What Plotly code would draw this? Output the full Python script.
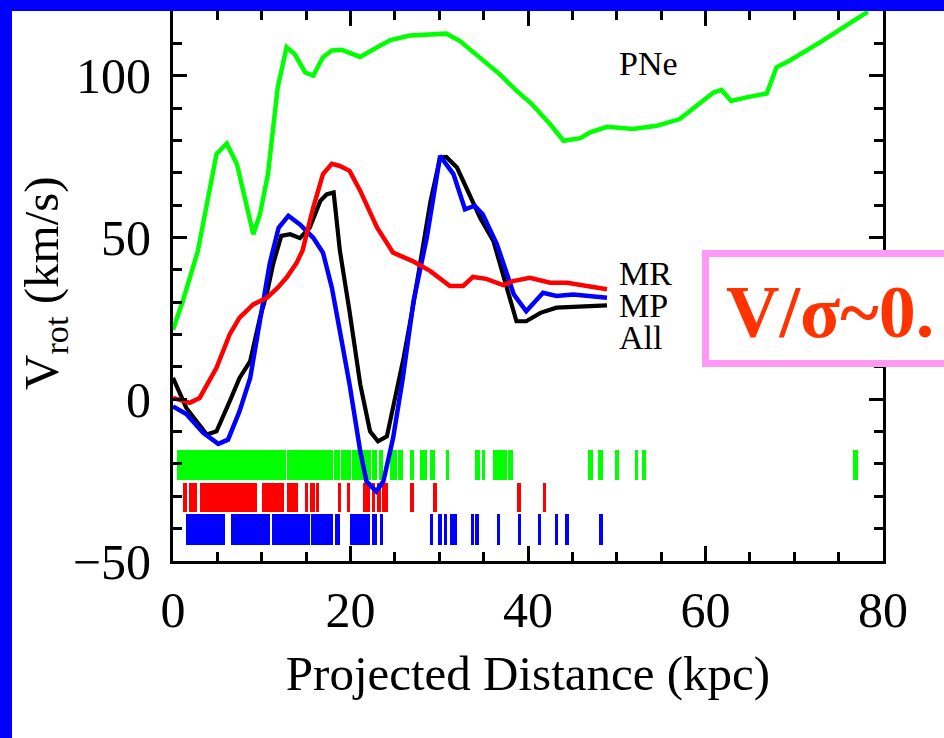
import plotly.graph_objects as go

# ---------------- data ----------------
pne_x = [0, 1.1, 2.8, 4.9, 6.05, 7.2, 9.05, 9.8, 10.7, 11.8, 12.8, 13.7, 14.9, 15.8, 16.9, 17.9, 19.0,
         21.1, 23.0, 24.5, 26.7, 29.3, 30.8, 32.3, 34.6, 36.8, 38.7, 40.4, 42.5, 44.0, 45.9, 47.0, 48.9,
         51.8, 54.5, 57.1, 59.0, 60.9, 61.8, 62.9, 64.6, 66.9, 68.0, 69.5, 72.9, 78.3]
pne_y = [21.5, 30.3, 45.8, 75.8, 79.0, 72.7, 51.0, 57.2, 69.6, 96.4, 108.8, 106.7, 101.0, 100.0, 105.7,
         107.8, 108.0, 105.8, 108.8, 111.0, 112.4, 113.0, 113.0, 110.8, 105.7, 100.5, 95.4, 91.3, 85.0,
         79.9, 80.7, 82.5, 84.2, 83.5, 84.5, 86.6, 90.7, 94.8, 95.6, 92.2, 93.3, 94.5, 102.6, 104.7,
         110.3, 119.8]

mr_x = [0, 1.9, 3.0, 4.9, 6.4, 7.5, 9.05, 10.6, 11.8, 12.8, 13.9, 14.6, 15.8, 16.9, 17.9, 18.8, 19.9,
        21.1, 23.0, 24.8, 27.0, 29.0, 31.2, 32.7, 33.8, 35.3, 37.2, 38.3, 40.2, 42.5, 44.4, 48.9]
mr_y = [0.4, -1.1, 0.4, 9.7, 20.1, 25.2, 29.3, 31.4, 34.5, 37.6, 42.0, 46.0, 59.2, 69.6, 72.8, 72.1,
        70.6, 64.4, 53.0, 45.3, 42.7, 39.6, 35.0, 35.0, 37.8, 37.2, 35.3, 36.5, 37.5, 36.0, 36.0, 34.0]

all_x = [0, 1.5, 3.8, 4.9, 6.4, 7.5, 8.7, 9.8, 10.6, 11.3, 12.2, 13.2, 14.3, 15.4, 16.6, 17.3, 18.1,
         18.8, 19.9, 21.1, 22.2, 23.1, 24.1, 25.0, 26.0, 27.0, 28.0, 29.0, 30.1, 30.8, 32.0, 33.5, 34.6,
         36.1, 38.0, 38.7, 39.8, 41.4, 43.2, 46.2, 48.9]
all_y = [6.6, -2.7, -10.9, -9.9, -0.6, 6.6, 11.8, 25.2, 33.0, 42.0, 50.5, 51.0, 49.8, 53.0, 61.3, 63.3,
         63.9, 46.0, 27.0, 4.6, -9.9, -13.0, -11.5, 0.0, 13.0, 28.0, 44.0, 61.0, 74.7, 74.9, 71.6, 62.3,
         56.1, 48.9, 31.0, 24.1, 24.1, 26.7, 28.3, 28.8, 29.0]

mp_x = [0, 1.5, 3.4, 5.1, 6.2, 7.5, 8.7, 9.8, 10.9, 11.9, 13.0, 14.3, 15.8, 16.9, 17.9, 18.8, 19.9,
        21.1, 21.8, 22.9, 23.7, 24.8, 25.9, 27.1, 28.6, 30.1, 31.6, 32.9, 34.0, 34.9, 36.5, 38.4, 39.8,
        41.7, 43.2, 45.1, 48.9]
mp_y = [-2.2, -4.6, -10.4, -13.8, -12.5, -3.7, 6.6, 25.2, 42.0, 53.0, 56.7, 54.0, 49.9, 45.3, 34.5,
        21.1, 4.5, -16.1, -25.4, -28.5, -25.4, -12.0, 6.6, 30.3, 50.0, 75.2, 69.6, 58.7, 59.8, 57.2,
        47.9, 32.4, 27.2, 32.9, 31.9, 32.4, 31.4]

# rug of object positions (start, end of each tick group, kpc)
pne_rug_start = [0.45, 12.8, 14.7, 18.1, 18.9, 20.2, 22.4, 23.2, 24.5, 25.4, 26.7, 27.8, 29.0, 30.8,
                 34.0, 34.8, 36.0, 36.9, 37.8, 46.8, 47.9, 49.8, 52.0, 52.9, 76.6]
pne_rug_end = [12.7, 14.6, 18.0, 18.8, 20.1, 22.3, 23.0, 23.7, 25.2, 25.9, 27.2, 28.6, 29.5, 31.1,
               34.6, 35.2, 36.8, 37.6, 38.3, 47.3, 48.4, 50.2, 52.4, 53.3, 77.2]

mr_rug_start = [1.1, 1.75, 3.0, 10.0, 12.9, 14.9, 15.4, 16.2, 18.6, 19.6, 21.4, 22.4, 23.0, 23.6,
                26.7, 29.3, 38.8, 41.7]
mr_rug_end = [1.6, 2.7, 9.5, 12.5, 14.1, 15.2, 16.0, 16.4, 18.9, 19.9, 22.2, 22.8, 23.4, 24.2,
              27.2, 29.7, 39.2, 42.0]

mp_rug_start = [1.5, 6.5, 11.2, 15.6, 18.3, 19.9, 22.4, 23.3, 29.0, 29.9, 30.5, 31.2, 33.6, 34.1,
                36.5, 38.9, 41.1, 43.0, 44.2, 48.0]
mp_rug_end = [5.9, 10.9, 15.4, 18.0, 18.8, 22.2, 23.0, 23.7, 29.3, 30.3, 30.9, 32.0, 33.8, 34.4,
              36.8, 39.2, 41.5, 43.4, 44.6, 48.5]

x_ticks = [0, 20, 40, 60, 80]
y_ticks = [-50, 0, 50, 100]

# ---------------- figure ----------------
# page is 944x738; a blue frame of 12px (left) and 11px (top) is the page background,
# the figure fills the rest.
FRAME_L, FRAME_T = 12, 11
W, H = 944 - FRAME_L, 738 - FRAME_T
# plot area in page pixels
PL, PR, PT, PB = 173, 883, 11, 561
L, R, T, B = PL - FRAME_L, PR - FRAME_L, PT - FRAME_T, PB - FRAME_T
PW, PH = R - L, B - T


def px(x):  # page pixel -> paper
    return (x - PL) / PW


def py(y):  # page pixel -> paper
    return (PB - y) / PH


GREEN = "#00FF00"
RED = "#FF0000"
BLUE = "#0000FF"
BLACK = "#000000"

fig = go.Figure()


def rug(starts, ends, lo, hi, color):
    mids = [(a + b) / 2 for a, b in zip(starts, ends)]
    widths = [max(b - a, 0.35) for a, b in zip(starts, ends)]
    fig.add_trace(go.Bar(x=mids, y=[hi - lo] * len(mids), base=lo, width=widths,
                         marker=dict(color=color, line=dict(width=0)), hoverinfo="skip"))


rug(pne_rug_start, pne_rug_end, -25.1, -15.8, GREEN)
rug(mr_rug_start, mr_rug_end, -35.0, -26.0, RED)
rug(mp_rug_start, mp_rug_end, -44.9, -35.6, BLUE)

fig.add_trace(go.Scatter(x=pne_x, y=pne_y, mode="lines", line=dict(color=GREEN, width=4.5)))
fig.add_trace(go.Scatter(x=all_x, y=all_y, mode="lines", line=dict(color=BLACK, width=4.2)))
fig.add_trace(go.Scatter(x=mp_x, y=mp_y, mode="lines", line=dict(color=BLUE, width=4.5)))
fig.add_trace(go.Scatter(x=mr_x, y=mr_y, mode="lines", line=dict(color=RED, width=4.5)))

SERIF = "Liberation Serif, Times New Roman, serif"

fig.update_layout(
    width=W, height=H,
    margin=dict(l=L, r=W - R, t=T, b=H - B, autoexpand=False),
    paper_bgcolor="white", plot_bgcolor="white",
    showlegend=False, barmode="overlay", bargap=0,
    font=dict(family=SERIF, color="black"),
    xaxis=dict(range=[0, 80], tickvals=x_ticks, ticks="inside", ticklen=15, tickwidth=3,
               tickcolor="black", showline=True, linewidth=3, linecolor="black", mirror="ticks",
               showgrid=False, zeroline=False, tickfont=dict(size=50, family=SERIF),
               ticklabelstandoff=3,
               minor=dict(ticks="inside", ticklen=9, tickwidth=3, tickcolor="black", dtick=5,
                          showgrid=False),
               title=dict(text="Projected Distance (kpc)", font=dict(size=49, family=SERIF),
                          standoff=19)),
    yaxis=dict(range=[-50, 120], tickvals=y_ticks, ticks="inside", ticklen=14, tickwidth=3,
               tickcolor="black", showline=True, linewidth=3, linecolor="black", mirror="ticks",
               showgrid=False, zeroline=False, tickfont=dict(size=50, family=SERIF),
               ticklabelstandoff=9,
               minor=dict(ticks="inside", ticklen=9, tickwidth=3, tickcolor="black", dtick=10,
                          showgrid=False)),
)

# y axis title
fig.add_annotation(text="V<sub>rot</sub> (km/s)", xref="paper", yref="paper",
                   x=px(44), y=py(283), textangle=-90, showarrow=False,
                   font=dict(size=49, family=SERIF, color="black"),
                   xanchor="center", yanchor="middle", borderpad=0)

# curve labels
for txt, xx, yy in [("PNe", 617, 63), ("MR", 617, 273), ("MP", 617, 305), ("All", 617, 338)]:
    fig.add_annotation(text=txt, xref="paper", yref="paper", x=px(xx), y=py(yy),
                       showarrow=False, xanchor="left", yanchor="middle",
                       font=dict(size=34, family=SERIF, color="black"))

# pink box with V/sigma text
fig.add_shape(type="rect", xref="paper", yref="paper", x0=px(705.5), x1=px(990),
              y0=py(363.5), y1=py(253.5), line=dict(color="#FF99F5", width=7),
              fillcolor="white", layer="above")
fig.add_annotation(text="<b>V/σ~0.</b>", xref="paper", yref="paper", x=px(724), y=py(312),
                   showarrow=False, xanchor="left", yanchor="middle",
                   font=dict(size=74, family=SERIF, color="#FF3300"))

fig.write_html(
    "out.html",
    config={"displayModeBar": False, "staticPlot": True},
    post_script=("document.body.style.margin='0';"
                 "document.body.style.padding='%dpx 0 0 %dpx';"
                 "document.body.style.background='#0000FF';"
                 "document.body.style.overflow='hidden';"
                 "document.documentElement.style.background='#0000FF';") % (FRAME_T, FRAME_L),
)
